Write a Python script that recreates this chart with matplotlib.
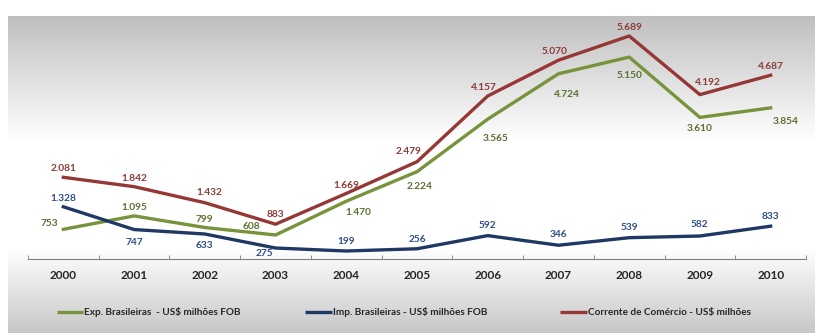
import numpy as np
import matplotlib
matplotlib.use("Agg")
import matplotlib.pyplot as plt

years = ["2000", "2001", "2002", "2003", "2004", "2005", "2006", "2007", "2008", "2009", "2010"]
exp_vals = [753, 1095, 799, 608, 1470, 2224, 3565, 4724, 5150, 3610, 3854]
imp_vals = [1328, 747, 633, 275, 199, 256, 592, 346, 539, 582, 833]
cor_vals = [2081, 1842, 1432, 883, 1669, 2479, 4157, 5070, 5689, 4192, 4687]
exp_lbl = ["753", "1.095", "799", "608", "1.470", "2.224", "3.565", "4.724", "5.150", "3.610", "3.854"]
imp_lbl = ["1.328", "747", "633", "275", "199", "256", "592", "346", "539", "582", "833"]
cor_lbl = ["2.081", "1.842", "1.432", "883", "1.669", "2.479", "4.157", "5.070", "5.689", "4.192", "4.687"]
legend_names = ["Exp. Brasileiras  - US$ milhões FOB",
                "Imp. Brasileiras - US$ milhões FOB",
                "Corrente de Comércio - US$ milhões"]

# label offsets in points (dx, dy)
exp_off = [(-10, 4), (0, 6), (0, 6), (-17, 6), (9, -8), (2, -11), (6, -14), (6, -15), (0, -13), (0, -8), (11, -10)]
imp_off = [(0, 6), (0, -9), (0, -8), (-8, -4), (0, 7), (0, 7), (0, 7), (0, 8), (0, 7), (0, 8), (0, 7)]
cor_off = [(0, 6), (0, 6), (3, 7), (0, 7), (0, 6), (-6, 7), (-3, 6), (-3, 6), (0, 6), (6, 9), (0, 6)]

green = "#77933C"
navy = "#1F3864"
red = "#953735"
green_t = "#5A7030"
navy_t = "#2F4F8A"
red_t = "#8E3A3A"

plt.rcParams['font.family'] = ['Lato', 'DejaVu Sans']

W, H = 815, 336
fig = plt.figure(figsize=(W / 100, H / 100), dpi=100)

# background gradient
bg = fig.add_axes([0, 0, 1, 1], zorder=-10)
rows = np.arange(H)
prof = np.ones(H)
top0, top1 = 16, 140
m = (rows >= top0) & (rows < top1)
prof[m] = 0.75 + 0.25 * (rows[m] - top0) / (top1 - top0)
b0, b1 = 248, 333
m = (rows >= b0) & (rows < b1)
prof[m] = 1.0 - 0.22 * (rows[m] - b0) / (b1 - b0)
m = rows >= b1
prof[m] = 1.0
img = np.tile(prof[:, None], (1, W))
img[:, :8] = 1.0
bg.imshow(np.dstack([img, img, img]), aspect='auto', extent=[0, W, H, 0], interpolation='bilinear')
bg.set_xlim(0, W)
bg.set_ylim(H, 0)
bg.axis('off')

ax = fig.add_axes([28 / W, 1 - 258.8 / H, (806 - 28) / W, (258.8 - 23.8) / H])
ax.patch.set_alpha(0)
x = np.arange(len(years))
ax.plot(x, exp_vals, color=green, lw=2.4, solid_joinstyle='round')
ax.plot(x, imp_vals, color=navy, lw=2.4, solid_joinstyle='round')
ax.plot(x, cor_vals, color=red, lw=2.4, solid_joinstyle='round')

for vals, lbls, offs, c in [(exp_vals, exp_lbl, exp_off, green_t),
                            (imp_vals, imp_lbl, imp_off, navy_t),
                            (cor_vals, cor_lbl, cor_off, red_t)]:
    for xi, v, s, o in zip(x, vals, lbls, offs):
        ax.annotate(s, (xi, v), xytext=o, textcoords='offset points',
                    ha='center', va='center', fontsize=7.3, fontweight='bold', color=c)

ax.set_xlim(-0.5, len(years) - 0.5)
ax.set_ylim(0, 6000)
for sp in ['top', 'right', 'left']:
    ax.spines[sp].set_visible(False)
ax.spines['bottom'].set_color('#808080')
ax.spines['bottom'].set_linewidth(0.8)
ax.set_yticks([])
ax.set_xticks(x)
ax.set_xticklabels(years, fontsize=8.5, fontweight='bold', color='#262626')
ax.tick_params(axis='x', which='major', length=0, pad=8)
ax.set_xticks(np.arange(-0.5, len(years), 1), minor=True)
ax.tick_params(axis='x', which='minor', direction='in', length=3, color='#808080')

# legend
leg_items = [(57, 83, green, legend_names[0]), (305, 332, navy, legend_names[1]), (560, 587, red, legend_names[2])]
for x0, x1, c, name in leg_items:
    bg.plot([x0, x1], [312, 312], color=c, lw=2.4, solid_capstyle='butt')
    bg.text(x1 + 1, 312, name, ha='left', va='center', fontsize=7.2, fontweight='bold', color='#262626')

fig.savefig("out.png", dpi=100)
